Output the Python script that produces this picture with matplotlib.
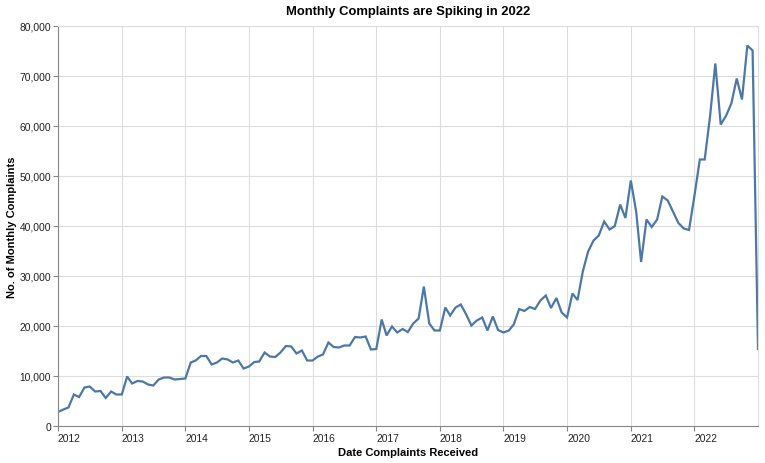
import matplotlib
matplotlib.use("Agg")
import matplotlib.pyplot as plt
import matplotlib.dates as mdates
import pandas as pd

# monthly complaint counts, Jan 2012 .. Jan 2023
y2012 = [2800, 3300, 3700, 6300, 5800, 7700, 7900, 6900, 7000, 5600, 6900, 6300]
y2013 = [6300, 9900, 8500, 9000, 8900, 8300, 8100, 9300, 9700, 9700, 9300, 9400]
y2014 = [9500, 12700, 13100, 14000, 14000, 12300, 12700, 13500, 13300, 12700, 13100, 11500]
y2015 = [11900, 12800, 12900, 14700, 13900, 13800, 14700, 16000, 15900, 14500, 15100, 13100]
y2016 = [13100, 13900, 14300, 16700, 15800, 15700, 16100, 16100, 17800, 17700, 17900, 15300]
y2017 = [15400, 21300, 18100, 19900, 18700, 19400, 18800, 20500, 21500, 27900, 20500, 19100]
y2018 = [19100, 23700, 22100, 23700, 24300, 22300, 20100, 21100, 21700, 19100, 21900, 19200]
y2019 = [18700, 19100, 20300, 23400, 23000, 23800, 23400, 25100, 26100, 23600, 25600, 22700]
y2020 = [21700, 26500, 25200, 31000, 34900, 37100, 38100, 40900, 39300, 40000, 44300, 41600]
y2021 = [49100, 42800, 32800, 41300, 39800, 41300, 45900, 45100, 42800, 40600, 39500, 39200]
y2022 = [46000, 53300, 53300, 62000, 72500, 60300, 62000, 64500, 69500, 65300, 76100, 75100]
y2023 = [15400]

counts = y2012 + y2013 + y2014 + y2015 + y2016 + y2017 + y2018 + y2019 + y2020 + y2021 + y2022 + y2023
months = pd.date_range("2012-01-01", periods=len(counts), freq="MS")

year_ticks = pd.date_range("2012-01-01", "2022-01-01", freq="YS")
y_ticks = [0, 10000, 20000, 30000, 40000, 50000, 60000, 70000, 80000]

plt.rcParams['font.family'] = ['Liberation Sans', 'DejaVu Sans']

W, H = 765, 464
fig = plt.figure(figsize=(W / 100, H / 100), dpi=100)
ax = fig.add_axes([58 / W, 37 / H, 700 / W, 400 / H])

ax.plot(months, counts, color="#4c78a8", lw=1.6, solid_joinstyle="miter")

ax.set_xlim(pd.Timestamp("2012-01-01"), pd.Timestamp("2023-01-01"))
ax.set_ylim(0, 80000)
ax.set_xticks(year_ticks)
ax.xaxis.set_major_formatter(mdates.DateFormatter("%Y"))
ax.set_yticks(y_ticks)
ax.set_yticklabels([f"{v:,}" for v in y_ticks])

ax.grid(True, color="#dddddd", lw=0.8)
ax.set_axisbelow(True)
for side in ["top", "right"]:
    ax.spines[side].set_color("#dddddd")
    ax.spines[side].set_linewidth(0.8)
for side in ["left", "bottom"]:
    ax.spines[side].set_color("#888888")
    ax.spines[side].set_linewidth(0.8)

ax.tick_params(axis="both", length=3.6, width=0.8, color="#888888",
               labelsize=7.4, labelcolor="#222222", pad=1.5)
for lab in ax.get_xticklabels():
    lab.set_horizontalalignment("left")

fig.text(408 / W, 1 - 12 / H, "Monthly Complaints are Spiking in 2022",
         ha="center", va="center", fontsize=9.4, fontweight="bold")
fig.text(408 / W, 1 - 453 / H, "Date Complaints Received",
         ha="center", va="center", fontsize=8, fontweight="bold")
fig.text(12 / W, 1 - 227 / H, "No. of Monthly Complaints", rotation=90,
         ha="center", va="center", fontsize=8, fontweight="bold")

fig.savefig("out.png", dpi=100)
